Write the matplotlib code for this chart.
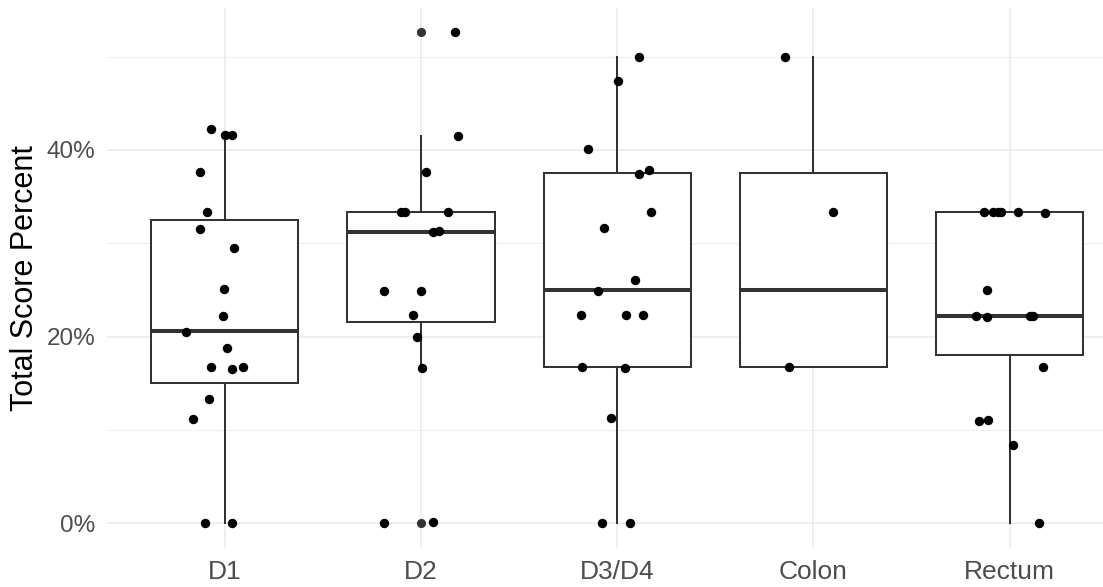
import matplotlib
matplotlib.use("Agg")
import matplotlib.pyplot as plt
from matplotlib.ticker import FixedLocator

plt.rcParams['font.family'] = ['Liberation Sans', 'DejaVu Sans']

categories = ["D1", "D2", "D3/D4", "Colon", "Rectum"]

# jittered points (percent) + horizontal jitter (category units)
d1_values = [42.2, 41.6, 41.6, 37.6, 33.3, 31.5, 29.5, 25.1, 22.2, 20.5, 18.8,
             16.7, 16.5, 16.7, 13.3, 11.2, 0.0, 0.0]
d1_jitter = [-0.071, 0.002, 0.036, -0.126, -0.089, -0.126, 0.047, -0.005, -0.007, -0.196, 0.013,
             -0.068, 0.039, 0.095, -0.078, -0.163, -0.099, 0.039]

d2_values = [52.6, 41.5, 37.6, 33.3, 33.4, 33.3, 31.2, 31.35, 24.9, 24.9, 22.35,
             20.0, 16.6, 0.0, 0.1]
d2_jitter = [0.172, 0.188, 0.023, -0.104, -0.084, 0.137, 0.060, 0.091, -0.190, -0.001, -0.040,
             -0.018, 0.003, -0.190, 0.062]

d34_values = [50.0, 47.4, 40.1, 37.9, 37.4, 33.3, 31.6, 26.1, 24.9, 22.3, 22.3, 22.3,
              16.75, 16.6, 11.25, 0.0, 0.0]
d34_jitter = [0.111, 0.004, -0.147, 0.164, 0.111, 0.172, -0.067, 0.091, -0.099, -0.184, 0.043, 0.130,
              -0.178, 0.040, -0.033, -0.077, 0.065]

colon_values = [50.0, 33.3, 16.7]
colon_jitter = [-0.145, 0.101, -0.125]

rectum_values = [33.3, 33.3, 33.3, 33.3, 33.3, 33.2, 25.0, 22.2, 22.1, 22.2, 22.2,
                 16.7, 11.0, 11.1, 8.4, 0.0]
rectum_jitter = [-0.131, -0.084, -0.061, -0.044, 0.044, 0.180, -0.117, -0.172, -0.114, 0.103, 0.120,
                 0.170, -0.156, -0.111, 0.015, 0.151]

# box statistics: lower whisker, Q1, median, Q3, upper whisker, outliers
whisker_low = [0.0, 16.6, 0.0, 16.7, 0.0]
q1 = [15.0, 21.6, 16.7, 16.7, 18.0]
median = [20.6, 31.25, 25.0, 25.0, 22.25]
q3 = [32.5, 33.35, 37.5, 37.5, 33.35]
whisker_high = [41.6, 41.5, 50.0, 50.0, 33.35]
outliers = [[], [0.0, 52.6], [], [], []]

all_values = [d1_values, d2_values, d34_values, colon_values, rectum_values]
all_jitter = [d1_jitter, d2_jitter, d34_jitter, colon_jitter, rectum_jitter]

fig = plt.figure(figsize=(11.03, 5.87), dpi=100)
ax = fig.add_axes([0.0970, 0.0668, 0.9252, 0.9204])

stats = []
for i, cat in enumerate(categories):
    stats.append(dict(label=cat, whislo=whisker_low[i], q1=q1[i], med=median[i],
                      q3=q3[i], whishi=whisker_high[i], fliers=outliers[i]))

positions = list(range(1, len(categories) + 1))
box_col = "#333333"
ax.bxp(stats, positions=positions, widths=0.75, showcaps=False, patch_artist=True,
       boxprops=dict(facecolor="white", edgecolor=box_col, linewidth=1.45),
       whiskerprops=dict(color=box_col, linewidth=1.45),
       medianprops=dict(color=box_col, linewidth=2.9, solid_capstyle="butt"),
       flierprops=dict(marker="o", markerfacecolor=box_col, markeredgecolor=box_col,
                       markersize=6.6, markeredgewidth=0),
       zorder=2)

for pos, vals, jit in zip(positions, all_values, all_jitter):
    xs = [pos + j for j in jit]
    ax.scatter(xs, vals, s=46, color="black", linewidths=0, zorder=3)

# axes / theme_minimal look
ax.set_xlim(0.4, 5.6)
ax.set_ylim(-2.63, 55.26)
ax.set_xticks(positions)
ax.set_xticklabels(categories)
ax.set_yticks([0, 20, 40])
ax.set_yticklabels(["0%", "20%", "40%"])
ax.yaxis.set_minor_locator(FixedLocator([10, 30, 50]))

for s in ax.spines.values():
    s.set_visible(False)
ax.tick_params(axis="both", which="both", length=0)
ax.tick_params(axis="x", labelsize=19, labelcolor="#4D4D4D", pad=9)
ax.tick_params(axis="y", labelsize=17.5, labelcolor="#4D4D4D", pad=8.5)

ax.grid(True, which="major", color="#EBEBEB", linewidth=1.1)
ax.grid(True, which="minor", axis="y", color="#EBEBEB", linewidth=0.55)
ax.set_axisbelow(True)

ax.set_ylabel("Total Score Percent", fontsize=22, color="black")
ax.yaxis.set_label_coords(-0.066, 0.5)

fig.savefig("out.png", dpi=100)
